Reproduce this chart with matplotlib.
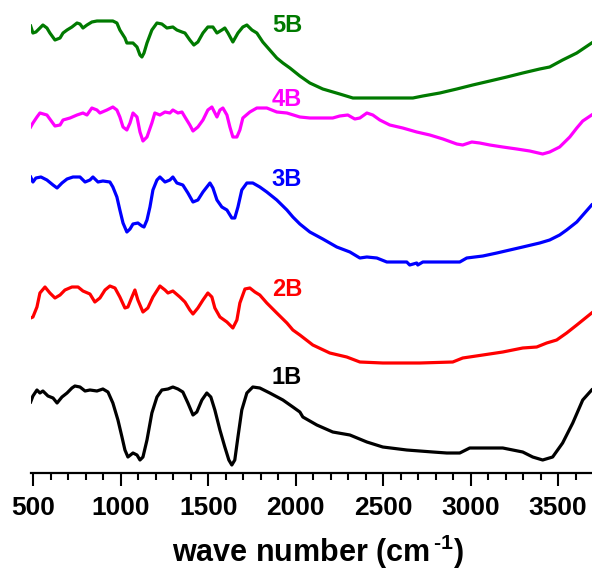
import numpy as np
import matplotlib
matplotlib.use('Agg')
import matplotlib.pyplot as plt
from matplotlib.ticker import MultipleLocator

matplotlib.rcParams['font.family'] = 'Liberation Sans'
matplotlib.rcParams['font.weight'] = 'bold'
matplotlib.rcParams['mathtext.fontset'] = 'custom'
matplotlib.rcParams['mathtext.rm'] = 'Liberation Sans:bold'
matplotlib.rcParams['mathtext.bf'] = 'Liberation Sans:bold'

# FTIR spectra, (wave number cm-1, transmittance a.u.)
s5b = [(485, 447), (498, 440), (515, 441), (538, 445), (555, 448), (578, 445), (595, 440),
       (624, 433), (653, 435), (670, 440), (693, 443), (721, 446), (750, 450), (767, 449),
       (784, 445), (807, 448), (835, 451), (864, 452), (955, 452), (978, 450), (995, 443),
       (1024, 435), (1035, 430), (1070, 430), (1093, 426), (1110, 418), (1121, 416),
       (1133, 420), (1150, 430), (1178, 443), (1207, 450), (1235, 449), (1264, 445),
       (1298, 446), (1321, 443), (1350, 441), (1367, 440), (1395, 433), (1418, 428),
       (1441, 431), (1470, 440), (1498, 446), (1527, 446), (1550, 440), (1578, 443),
       (1595, 445), (1613, 440), (1641, 431), (1670, 440), (1698, 446), (1721, 448),
       (1750, 443), (1778, 440), (1812, 431), (1852, 423), (1892, 415), (1927, 410),
       (1967, 405), (2024, 397), (2081, 390), (2155, 384), (2252, 379), (2327, 375),
       (2441, 375), (2670, 375), (2727, 377), (2824, 380), (2921, 384), (3012, 388),
       (3110, 392), (3207, 396), (3298, 400), (3395, 404), (3452, 406), (3526, 413),
       (3607, 420), (3692, 430)]

s4b = [(485, 346), (498, 350), (521, 356), (538, 360), (578, 358), (607, 351), (624, 347),
       (653, 348), (670, 353), (710, 355), (750, 358), (784, 360), (807, 358), (835, 365),
       (864, 363), (881, 360), (921, 363), (955, 366), (978, 363), (995, 356), (1013, 346),
       (1035, 343), (1053, 350), (1070, 360), (1093, 356), (1110, 341), (1127, 332),
       (1150, 336), (1178, 350), (1195, 360), (1224, 358), (1253, 361), (1281, 360),
       (1298, 363), (1327, 360), (1350, 361), (1367, 356), (1395, 348), (1413, 342),
       (1441, 346), (1470, 353), (1498, 363), (1521, 366), (1550, 356), (1567, 363),
       (1584, 365), (1607, 358), (1624, 346), (1641, 336), (1664, 336), (1681, 343),
       (1698, 355), (1738, 361), (1778, 365), (1835, 365), (1892, 361), (1950, 360),
       (2024, 356), (2081, 355), (2212, 355), (2252, 357), (2298, 358), (2338, 354),
       (2367, 355), (2407, 360), (2441, 358), (2481, 353), (2538, 348), (2612, 345),
       (2692, 341), (2767, 338), (2842, 334), (2921, 329), (2955, 328), (3007, 331),
       (3052, 330), (3110, 328), (3184, 326), (3264, 324), (3338, 322), (3412, 319),
       (3452, 321), (3509, 326), (3567, 336), (3607, 345), (3641, 352), (3692, 358)]

s3b = [(485, 296), (498, 291), (515, 295), (544, 296), (578, 293), (613, 288), (636, 285),
       (664, 290), (693, 294), (727, 296), (767, 296), (796, 291), (824, 293), (841, 296),
       (870, 291), (898, 292), (938, 291), (955, 286), (978, 276), (995, 263), (1013, 250),
       (1035, 241), (1053, 244), (1070, 249), (1098, 250), (1121, 247), (1133, 246),
       (1150, 253), (1167, 266), (1184, 283), (1207, 293), (1224, 296), (1253, 291),
       (1281, 293), (1298, 296), (1321, 290), (1355, 288), (1384, 280), (1413, 271),
       (1441, 273), (1470, 281), (1510, 290), (1527, 285), (1550, 273), (1578, 266),
       (1607, 263), (1635, 255), (1652, 255), (1670, 266), (1692, 283), (1721, 290),
       (1755, 290), (1795, 286), (1835, 281), (1892, 273), (1950, 263), (1984, 256),
       (2024, 249), (2081, 241), (2155, 234), (2235, 226), (2310, 221), (2367, 215),
       (2407, 216), (2464, 215), (2521, 211), (2635, 211), (2652, 208), (2692, 210),
       (2698, 208), (2727, 211), (2938, 211), (2978, 215), (3070, 217), (3150, 220),
       (3224, 223), (3298, 226), (3395, 230), (3452, 233), (3509, 238), (3549, 243),
       (3607, 251), (3692, 268)]

s2b = [(485, 155), (498, 156), (521, 166), (538, 180), (567, 186), (595, 180), (624, 175),
       (653, 178), (681, 183), (721, 186), (756, 186), (784, 182), (824, 179), (852, 171),
       (881, 175), (910, 183), (938, 187), (967, 185), (995, 176), (1024, 165), (1041, 166),
       (1064, 176), (1081, 183), (1098, 173), (1127, 161), (1155, 165), (1184, 176),
       (1224, 187), (1253, 183), (1270, 180), (1298, 182), (1338, 176), (1367, 171),
       (1395, 163), (1413, 159), (1441, 165), (1470, 173), (1498, 180), (1521, 176),
       (1538, 165), (1567, 156), (1607, 151), (1641, 145), (1664, 153), (1681, 170),
       (1710, 184), (1738, 185), (1767, 181), (1795, 178), (1835, 170), (1892, 160),
       (1950, 150), (1984, 143), (2024, 138), (2098, 128), (2195, 120), (2292, 116),
       (2367, 111), (2498, 110), (2710, 110), (2898, 111), (2955, 115), (3070, 118),
       (3184, 121), (3298, 125), (3378, 126), (3435, 130), (3492, 133), (3549, 140),
       (3607, 148), (3692, 160)]

s1b = [(485, 71), (498, 77), (521, 83), (538, 80), (555, 82), (584, 77), (613, 75),
       (636, 70), (664, 76), (693, 80), (721, 85), (738, 87), (767, 86), (796, 82),
       (824, 83), (864, 82), (898, 84), (927, 81), (955, 70), (984, 53), (1007, 36),
       (1024, 23), (1041, 16), (1070, 20), (1093, 18), (1110, 13), (1127, 16), (1150, 33),
       (1178, 60), (1207, 76), (1235, 83), (1270, 84), (1298, 86), (1327, 84), (1355, 81),
       (1384, 70), (1413, 58), (1435, 61), (1464, 73), (1492, 80), (1515, 76), (1538, 63),
       (1567, 43), (1595, 26), (1618, 13), (1635, 8), (1652, 13), (1670, 36), (1692, 63),
       (1721, 80), (1755, 86), (1795, 85), (1852, 80), (1927, 73), (1984, 66), (2024, 61),
       (2041, 56), (2121, 48), (2212, 41), (2310, 38), (2407, 31), (2498, 26), (2635, 23),
       (2784, 21), (2864, 20), (2938, 20), (2995, 25), (3184, 25), (3298, 21), (3355, 16),
       (3412, 13), (3469, 16), (3526, 30), (3584, 50), (3641, 73), (3692, 83)]

samples = ['1B', '2B', '3B', '4B', '5B']
spectra = [s1b, s2b, s3b, s4b, s5b]
colors = ['black', '#ff0000', '#0000ff', '#ff00ff', '#007a00']
label_y = [96, 183, 293, 373, 448]

fig = plt.figure(figsize=(5.92, 5.70), dpi=100)
ax = fig.add_axes([31 / 592, 97 / 570, 561 / 592, 473 / 570])

for name, data, c, ly in zip(samples, spectra, colors, label_y):
    d = np.array(data)
    ax.plot(d[:, 0], d[:, 1], color=c, lw=2.3)
    ax.text(1950, ly, name, color=c, fontsize=17, fontweight='bold',
            ha='center', va='center')

ax.set_xlim(487, 3694)
ax.set_ylim(0, 473)
for s in ['left', 'right', 'top']:
    ax.spines[s].set_visible(False)
ax.spines['bottom'].set_linewidth(1.6)
ax.set_yticks([])
ax.xaxis.set_major_locator(MultipleLocator(500))
ax.xaxis.set_minor_locator(MultipleLocator(100))
ax.tick_params(axis='x', which='major', direction='out', length=9.5, width=1.5,
               labelsize=19, pad=7)
ax.tick_params(axis='x', which='minor', direction='out', length=5, width=1.5)
for t in ax.get_xticklabels():
    t.set_fontweight('bold')

fig.text(318 / 592, 8 / 570, r'wave number (cm$^{\,\text{-1}}$)', fontsize=22,
         fontweight='bold', ha='center', va='baseline')

fig.savefig('out.png', dpi=100)
